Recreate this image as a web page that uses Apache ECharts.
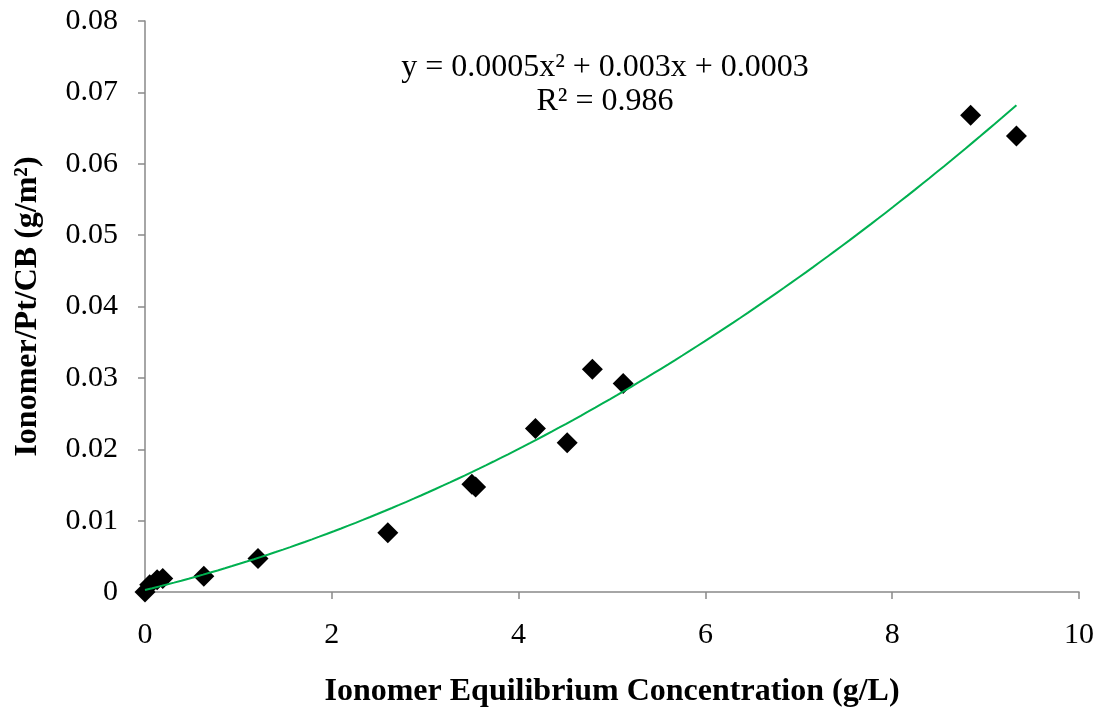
<!DOCTYPE html>
<html>
<head>
<meta charset="utf-8">
<script src="https://cdn.jsdelivr.net/npm/echarts@6/dist/echarts.min.js"></script>
<style>
  html, body { margin: 0; padding: 0; background: #fff; }
  #chart { width: 1103px; height: 714px; }
</style>
</head>
<body>
<div id="chart"></div>
<script>
// Measured adsorption points
const concentration = [0, 0.05, 0.13, 0.19, 0.63, 1.21, 2.60, 3.50, 3.54, 4.18, 4.52, 4.79, 5.12, 8.84, 9.33];
const loading = [0.0000, 0.0010, 0.0017, 0.0019, 0.0022, 0.0047, 0.0083, 0.0151, 0.0147, 0.0229, 0.0209, 0.0312, 0.0292, 0.0668, 0.0639];

const equationLine = 'y = 0.0005x² + 0.003x + 0.0003';
const r2Line = 'R² = 0.986';

// Second-order polynomial least-squares fit of the points
function polyFit2(xs, ys) {
  let S = [0, 0, 0, 0, 0], T = [0, 0, 0];
  for (let i = 0; i < xs.length; i++) {
    let p = 1;
    for (let k = 0; k < 5; k++) { S[k] += p; if (k < 3) T[k] += p * ys[i]; p *= xs[i]; }
  }
  const M = [[S[0], S[1], S[2], T[0]], [S[1], S[2], S[3], T[1]], [S[2], S[3], S[4], T[2]]];
  for (let c = 0; c < 3; c++) {
    for (let r = c + 1; r < 3; r++) {
      const f = M[r][c] / M[c][c];
      for (let k = c; k < 4; k++) M[r][k] -= f * M[c][k];
    }
  }
  const sol = [0, 0, 0];
  for (let r = 2; r >= 0; r--) {
    let s = M[r][3];
    for (let k = r + 1; k < 3; k++) s -= M[r][k] * sol[k];
    sol[r] = s / M[r][r];
  }
  return sol; // [c, b, a]
}
const coef = polyFit2(concentration, loading);
const xMax = Math.max(...concentration);
const trend = [];
for (let i = 0; i <= 120; i++) {
  const x = xMax * i / 120;
  trend.push([x, coef[0] + coef[1] * x + coef[2] * x * x]);
}

const chart = echarts.init(document.getElementById('chart'), null, { renderer: 'canvas' });
const serif = '"Liberation Serif", "Times New Roman", serif';
const axisGray = '#898989';

chart.setOption({
  animation: false,
  backgroundColor: '#fff',
  grid: { left: 145, right: 24, top: 21, bottom: 122, containLabel: false, outerBoundsMode: 'none' },
  xAxis: {
    type: 'value', min: 0, max: 10, interval: 2,
    name: 'Ionomer Equilibrium Concentration (g/L)',
    nameLocation: 'middle', nameGap: 84,
    nameTextStyle: { fontFamily: serif, fontWeight: 'bold', fontSize: 32, color: '#000' },
    axisLine: { lineStyle: { color: axisGray, width: 1.5 } },
    axisTick: { show: true, length: 7, lineStyle: { color: axisGray, width: 1.5 } },
    axisLabel: { fontFamily: serif, fontSize: 30, color: '#000', margin: 28 },
    splitLine: { show: false }
  },
  yAxis: {
    type: 'value', min: 0, max: 0.08, interval: 0.01,
    name: 'Ionomer/Pt/CB (g/m²)',
    nameLocation: 'middle', nameGap: 101, nameRotate: 90,
    nameTextStyle: { fontFamily: serif, fontWeight: 'bold', fontSize: 32, color: '#000' },
    axisLine: { show: true, lineStyle: { color: axisGray, width: 1.5 } },
    axisTick: { show: true, length: 7, lineStyle: { color: axisGray, width: 1.5 } },
    axisLabel: { fontFamily: serif, fontSize: 30, color: '#000', margin: 27,
      formatter: v => (v === 0 ? '0' : v.toFixed(2)) },
    splitLine: { show: false }
  },
  series: [
    {
      type: 'line', data: trend, showSymbol: false, smooth: false,
      lineStyle: { color: '#00B050', width: 2 }, z: 3
    },
    {
      type: 'scatter', data: concentration.map((x, i) => [x, loading[i]]),
      symbol: 'diamond', symbolSize: 21,
      itemStyle: { color: '#000', opacity: 1 }, z: 2
    }
  ],
  graphic: [
    { type: 'text', x: 605, y: 68, style: { text: equationLine, fontFamily: serif, fontSize: 32, fill: '#000', align: 'center', verticalAlign: 'middle' } },
    { type: 'text', x: 605, y: 102, style: { text: r2Line, fontFamily: serif, fontSize: 32, fill: '#000', align: 'center', verticalAlign: 'middle' } }
  ]
});
</script>
</body>
</html>
